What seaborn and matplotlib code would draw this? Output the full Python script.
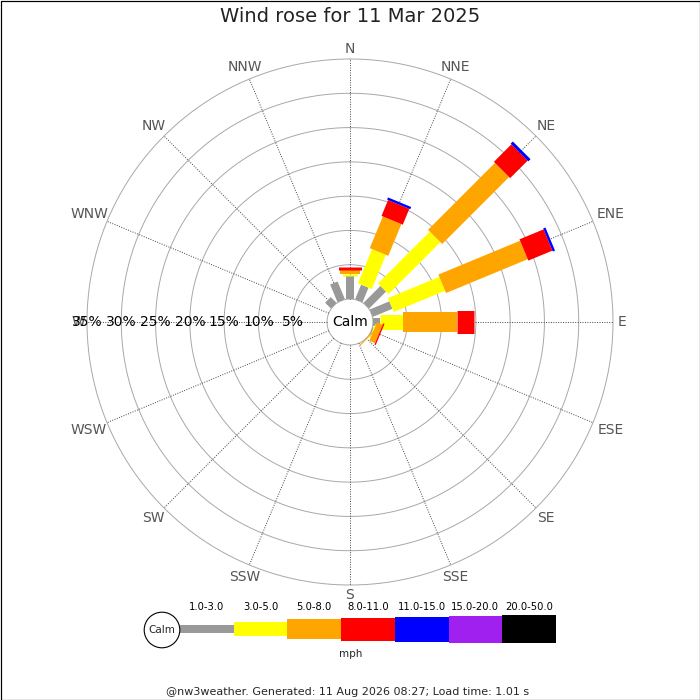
import numpy as np
import matplotlib
matplotlib.use("Agg")
import matplotlib.pyplot as plt
import seaborn as sns

# ---------------- data ----------------
directions = ["N", "NNE", "NE", "ENE", "E", "ESE", "SE", "SSE",
              "S", "SSW", "SW", "WSW", "W", "WNW", "NW", "NNW"]
band_labels = ["1.0-3.0", "3.0-5.0", "5.0-8.0", "8.0-11.0",
               "11.0-15.0", "15.0-20.0", "20.0-50.0"]
band_colors = ["#999999", "#ffff00", "#ffa500", "#ff0000",
               "#0000ff", "#a020f0", "#000000"]
# percentage of time per direction, per speed band (mph)
pct_1_3   = [3.35, 2.3, 3.5, 3.1, 1.0, 0.15, 0.0, 0, 0, 0, 0, 0, 0, 0, 1.2, 2.8]
pct_3_5   = [0.35, 5.4, 10.7, 8.1, 3.4, 0.15, 0.0, 0, 0, 0, 0, 0, 0, 0, 0, 0]
pct_5_8   = [0.5, 5.0, 13.8, 12.9, 7.8, 0.9, 0.15, 0, 0, 0, 0, 0, 0, 0, 0, 0]
pct_8_11  = [0.5, 2.5, 3.6, 3.8, 2.5, 0.2, 0.0, 0, 0, 0, 0, 0, 0, 0, 0, 0]
pct_11_15 = [0, 0.35, 0.45, 0.35, 0, 0, 0, 0, 0, 0, 0, 0, 0, 0, 0, 0]
pct_15_20 = [0, 0, 0, 0, 0, 0, 0, 0, 0, 0, 0, 0, 0, 0, 0, 0]
pct_20_50 = [0, 0, 0, 0, 0, 0, 0, 0, 0, 0, 0, 0, 0, 0, 0, 0]
ring_values = [5, 10, 15, 20, 25, 30, 35]
ring_labels = ["5%", "10%", "15%", "20%", "25%", "30%", "35%"]
title = "Wind rose for 11 Mar 2025"
footer = "@nw3weather. Generated: 11 Aug 2026 08:27; Load time: 1.01 s"
unit = "mph"
calm_label = "Calm"

# ---------------- style ----------------
sns.set_theme(style="white")
plt.rcParams["font.family"] = ["DejaVu Sans"]

DPI = 100
PT = 72.0 / DPI          # points per pixel
bar_px = [8, 15, 20, 23, 25, 27, 28]
legend_px = [8, 14, 20, 23, 25, 27, 28]
# label distance (px) by angular offset from the vertical axis: 0,22.5,45,67.5,90
label_r_px = {0.0: 273, 22.5: 275.7, 45.0: 277.5, 67.5: 282.5, 90.0: 272}

fig = plt.figure(figsize=(7, 7), dpi=DPI)
fig.patch.set_facecolor("white")

# overlay axes in pixel coordinates (title, legend, footer, frame)
ov = fig.add_axes([0, 0, 1, 1])
ov.set_xlim(0, 700)
ov.set_ylim(700, 0)
ov.axis("off")

# polar rose axes: outer ring radius 263 px, centre (350, 322)
R_OUT = 263
cx, cy = 350, 322
ax = fig.add_axes([(cx - R_OUT) / 700, (700 - cy - R_OUT) / 700,
                   2 * R_OUT / 700, 2 * R_OUT / 700], projection="polar")
ax.patch.set_alpha(0)
ax.set_theta_zero_location("N")
ax.set_theta_direction(-1)
rmax = 35.0
hole_px = 23.0
px_per_unit = (R_OUT - hole_px) / rmax
ax.set_rlim(0, rmax)
ax.set_rorigin(-hole_px / px_per_unit)
ax.axis("off")

angles_deg = np.arange(16) * 22.5
thetas = np.deg2rad(angles_deg)
circ = np.linspace(0, 2 * np.pi, 400)

# rings
for rv in [0] + ring_values:
    ax.plot(circ, np.full_like(circ, rv), color="#a8a8a8", lw=0.7,
            zorder=1, clip_on=False)
# radial dotted lines
for th in thetas:
    ax.plot([th, th], [0, rmax], color="#444444", lw=0.7,
            ls=(0, (1, 1.5)), zorder=1, clip_on=False)

# bars
bands = [pct_1_3, pct_3_5, pct_5_8, pct_8_11, pct_11_15, pct_15_20, pct_20_50]
cum = np.zeros(16)
for b, vals in enumerate(bands):
    vals = np.asarray(vals, dtype=float)
    for i, th in enumerate(thetas):
        if vals[i] > 0:
            ax.plot([th, th], [cum[i], cum[i] + vals[i]],
                    color=band_colors[b], lw=bar_px[b] * PT,
                    solid_capstyle="butt", zorder=3 + b)
    cum += vals

# ring labels along west axis
for rv, lab in zip(ring_values, ring_labels):
    ax.text(np.deg2rad(270), rv, lab, ha="center", va="center",
            fontsize=10, color="black", zorder=10)

# direction labels
for a, th, d in zip(angles_deg, thetas, directions):
    m = a % 180
    off = min(m, 180 - m)
    rpx = label_r_px[float(off)]
    ax.text(th, (rpx - hole_px) / px_per_unit, d, ha="center", va="center",
            fontsize=10, color="#555555", clip_on=False)

# calm label
ov.text(cx, cy, calm_label, ha="center", va="center", fontsize=10, color="black")

# title
ov.text(350, 17, title, ha="center", va="center", fontsize=14, color="#222222")

# legend
seg_w = 53.7
x0 = 180
ly = 629
centers = [x0 + seg_w * (k + 0.5) for k in range(len(band_labels))]
heights = legend_px
ov.bar(centers, heights, width=seg_w,
       bottom=[ly - h / 2 for h in heights], color=band_colors,
       edgecolor="none", zorder=2)
for c, lab in zip(centers, band_labels):
    ov.text(c, 607, lab, ha="center", va="center", fontsize=7.2, color="black")
calm_circle = plt.Circle((162, 630), 17.8, facecolor="white",
                         edgecolor="black", lw=0.8, zorder=3)
ov.add_patch(calm_circle)
ov.text(162, 630, calm_label, ha="center", va="center", fontsize=7.5, zorder=4)
ov.text(351, 654, unit, ha="center", va="center", fontsize=7.5)

# footer
ov.text(348, 692, footer, ha="center", va="center", fontsize=8)

# frame
ov.plot([0.5, 699.5, 699.5, 0.5, 0.5], [0.5, 0.5, 699.5, 699.5, 0.5],
        color="black", lw=1.2 * PT, clip_on=False)

fig.savefig("out.png", dpi=DPI, facecolor="white")
